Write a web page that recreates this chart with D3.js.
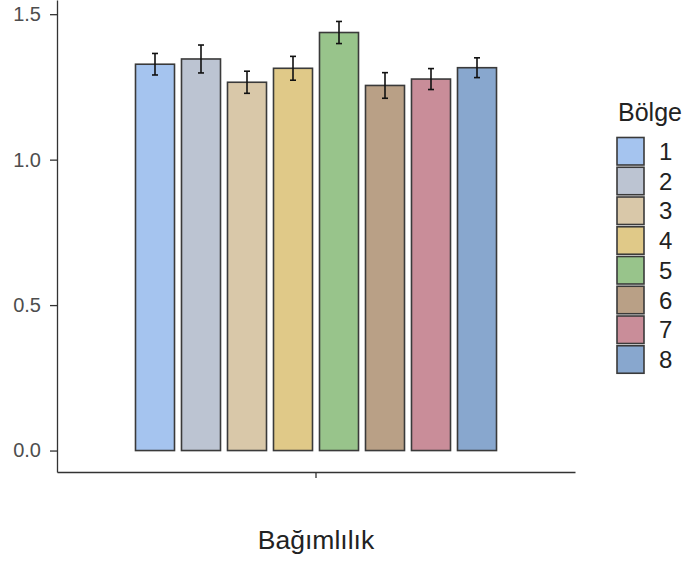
<!DOCTYPE html>
<html>
<head>
<meta charset="utf-8">
<script src="https://cdn.jsdelivr.net/npm/d3@7"></script>
<style>
  html, body { margin: 0; padding: 0; background: #fff; }
  svg { display: block; font-family: "Liberation Sans", Arial, sans-serif; }
</style>
</head>
<body>
<svg id="chart" width="686" height="562"></svg>
<script>
// ---- data ----
const categories = ["Bağımlılık"];
const regions = ["1", "2", "3", "4", "5", "6", "7", "8"];
const means = [1.328, 1.346, 1.266, 1.314, 1.437, 1.255, 1.277, 1.316];
const errors = [0.037, 0.048, 0.038, 0.041, 0.038, 0.044, 0.036, 0.034];
const colors = ["#A5C4EF", "#BCC4D2", "#D9C8A9", "#E0C988", "#98C48B", "#B9A086", "#C98D99", "#88A7CE"];
const yTicks = [0.0, 0.5, 1.0, 1.5];
const legendTitle = "Bölge";

// ---- layout ----
const svg = d3.select("#chart");
const panel = { left: 57, right: 575, top: 0, bottom: 472 };

const maxTop = d3.max(means.map((m, i) => m + errors[i]));
const pad = 0.05 * maxTop;
const y = d3.scaleLinear().domain([-pad, maxTop + pad]).range([panel.bottom, panel.top]);

const x = d3.scaleBand().domain(categories).range([panel.left, panel.right])
  .paddingInner(0).paddingOuter(0.2038);
const xi = d3.scaleBand().domain(regions).range([0, x.bandwidth()])
  .paddingInner(0.152).paddingOuter(0.076);

const color = d3.scaleOrdinal().domain(regions).range(colors);

const rows = regions.map((r, i) => ({ cat: categories[0], region: r, mean: means[i], se: errors[i] }));

// bars
const g = svg.append("g");
g.selectAll("rect.bar").data(rows).join("rect")
  .attr("class", "bar")
  .attr("x", d => x(d.cat) + xi(d.region))
  .attr("width", xi.bandwidth())
  .attr("y", d => y(d.mean))
  .attr("height", d => y(0) - y(d.mean))
  .attr("fill", d => color(d.region))
  .attr("stroke", "#3a3a3a")
  .attr("stroke-width", 1.6);

// error bars
const capW = 6;
const eb = g.selectAll("g.err").data(rows).join("g").attr("class", "err")
  .attr("stroke", "#111").attr("stroke-width", 1.6);
eb.append("line")
  .attr("x1", d => x(d.cat) + xi(d.region) + xi.bandwidth() / 2)
  .attr("x2", d => x(d.cat) + xi(d.region) + xi.bandwidth() / 2)
  .attr("y1", d => y(d.mean - d.se)).attr("y2", d => y(d.mean + d.se));
eb.append("line")
  .attr("x1", d => x(d.cat) + xi(d.region) + xi.bandwidth() / 2 - capW / 2)
  .attr("x2", d => x(d.cat) + xi(d.region) + xi.bandwidth() / 2 + capW / 2)
  .attr("y1", d => y(d.mean + d.se)).attr("y2", d => y(d.mean + d.se));
eb.append("line")
  .attr("x1", d => x(d.cat) + xi(d.region) + xi.bandwidth() / 2 - capW / 2)
  .attr("x2", d => x(d.cat) + xi(d.region) + xi.bandwidth() / 2 + capW / 2)
  .attr("y1", d => y(d.mean - d.se)).attr("y2", d => y(d.mean - d.se));

// y axis
const yAxis = d3.axisLeft(y).tickValues(yTicks).tickFormat(d3.format(".1f"))
  .tickSize(7).tickPadding(9).tickSizeOuter(0);
const ya = svg.append("g").attr("transform", `translate(${panel.left},0)`).call(yAxis);
ya.select(".domain").attr("stroke", "#333").attr("stroke-width", 1.3);
ya.selectAll(".tick line").attr("stroke", "#333").attr("stroke-width", 1.3);
ya.selectAll(".tick text").attr("fill", "#4d4d4d").attr("font-size", 20)
  .attr("font-family", "Liberation Sans, Arial, sans-serif");

// x axis
const xAxis = d3.axisBottom(x).tickSize(6).tickSizeOuter(0).tickFormat("");
const xa = svg.append("g").attr("transform", `translate(0,${panel.bottom})`).call(xAxis);
xa.select(".domain").attr("stroke", "#333").attr("stroke-width", 1.3);
xa.selectAll(".tick line").attr("stroke", "#333").attr("stroke-width", 1.3);

// x title
svg.append("text")
  .attr("x", x(categories[0]) + x.bandwidth() / 2)
  .attr("y", 549)
  .attr("text-anchor", "middle")
  .attr("font-size", 26.5)
  .attr("fill", "#222")
  .text(categories[0]);

// legend
const lg = svg.append("g").attr("transform", "translate(617,0)");
lg.append("text").attr("x", 1).attr("y", 121).attr("font-size", 25).attr("fill", "#222").text(legendTitle);
const keyStep = 29.75, keyW = 27, keyH = 27.5, keyTop = 137.5;
const items = lg.selectAll("g.item").data(regions).join("g").attr("class", "item")
  .attr("transform", (d, i) => `translate(0,${keyTop + i * keyStep})`);
items.append("rect")
  .attr("width", keyW).attr("height", keyH)
  .attr("fill", d => color(d))
  .attr("stroke", "#3a3a3a").attr("stroke-width", 1.6);
items.append("text")
  .attr("x", 42).attr("y", keyH / 2).attr("dy", "0.36em")
  .attr("font-size", 24).attr("fill", "#222")
  .text(d => d);
</script>
</body>
</html>
